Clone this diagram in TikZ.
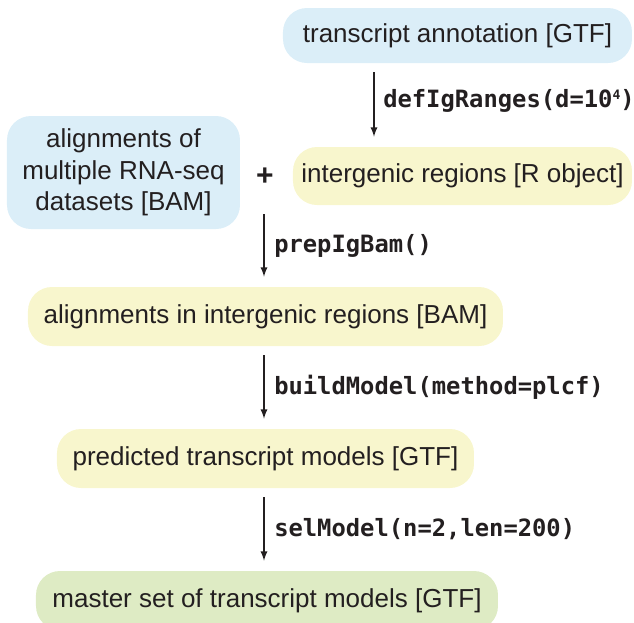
\documentclass[tikz,border=0pt]{standalone}
\usepackage{fontspec}
\setmainfont{Liberation Sans}
\setmonofont{DejaVu Sans Mono}
\definecolor{boxblue}{RGB}{219,238,248}
\definecolor{boxyellow}{RGB}{248,246,205}
\definecolor{boxgreen}{RGB}{222,235,196}
\definecolor{ink}{RGB}{35,31,32}
\tikzset{
  box/.style={rectangle, rounded corners=12pt, inner sep=0pt, text=ink,
    font=\fontsize{13}{15.75}\selectfont, align=center},
  flow/.style={->, >=latex, semithick, draw=ink, shorten <=4.5pt, shorten >=5pt},
  fn/.style={right, midway, xshift=1.5pt, text=ink, font=\fontsize{11.9}{14}\selectfont\ttfamily\bfseries}
}

\begin{document}
\begin{tikzpicture}[x=0.5pt,y=-0.5pt]
  \useasboundingbox (0,0) rectangle (634,623);
  \node[box, fill=boxblue, minimum width=174.5pt, minimum height=27.5pt] (anno) at (457.5,35.5) {transcript annotation [GTF]};
  \node[box, fill=boxyellow, minimum width=169.5pt, minimum height=29pt] (igr) at (462.5,176) {intergenic regions [R object]};
  \node[box, fill=boxblue, minimum width=116.5pt, minimum height=56.5pt] (bam) at (123.5,172.5) {alignments of\\multiple RNA-seq\\datasets [BAM]};
  \node[text=ink, font=\fontsize{15}{15}\selectfont\bfseries] (plus) at (265,177) {+};
  \node[box, fill=boxyellow, minimum width=237.5pt, minimum height=29.5pt] (igbam) at (265.5,316.5) {alignments in intergenic regions [BAM]};
  \node[box, fill=boxyellow, minimum width=208.5pt, minimum height=29.5pt] (pred) at (265.5,458.5) {predicted transcript models [GTF]};
  \node[box, fill=boxgreen, minimum width=231pt, minimum height=29.5pt] (master) at (267,600.5) {master set of transcript models [GTF]};
  % arrows and function calls
  \coordinate (c1) at (374,0);
  \coordinate (c2) at (264,0);
  \draw[flow] (anno.south -| c1) -- (igr.north -| c1) node[fn, xshift=-0.5pt, yshift=2pt] {defIgRanges(d=10\raisebox{0.6ex}{\fontsize{6.5}{6.5}\selectfont 4})};
  \draw[flow] (igr.south -| c2) -- (igbam.north -| c2) node[fn] {prepIgBam()};
  \draw[flow] (igbam.south -| c2) -- (pred.north -| c2) node[fn] {buildModel(method=plcf)};
  \draw[flow] (pred.south -| c2) -- (master.north -| c2) node[fn] {selModel(n=2,len=200)};
\end{tikzpicture}
\end{document}
